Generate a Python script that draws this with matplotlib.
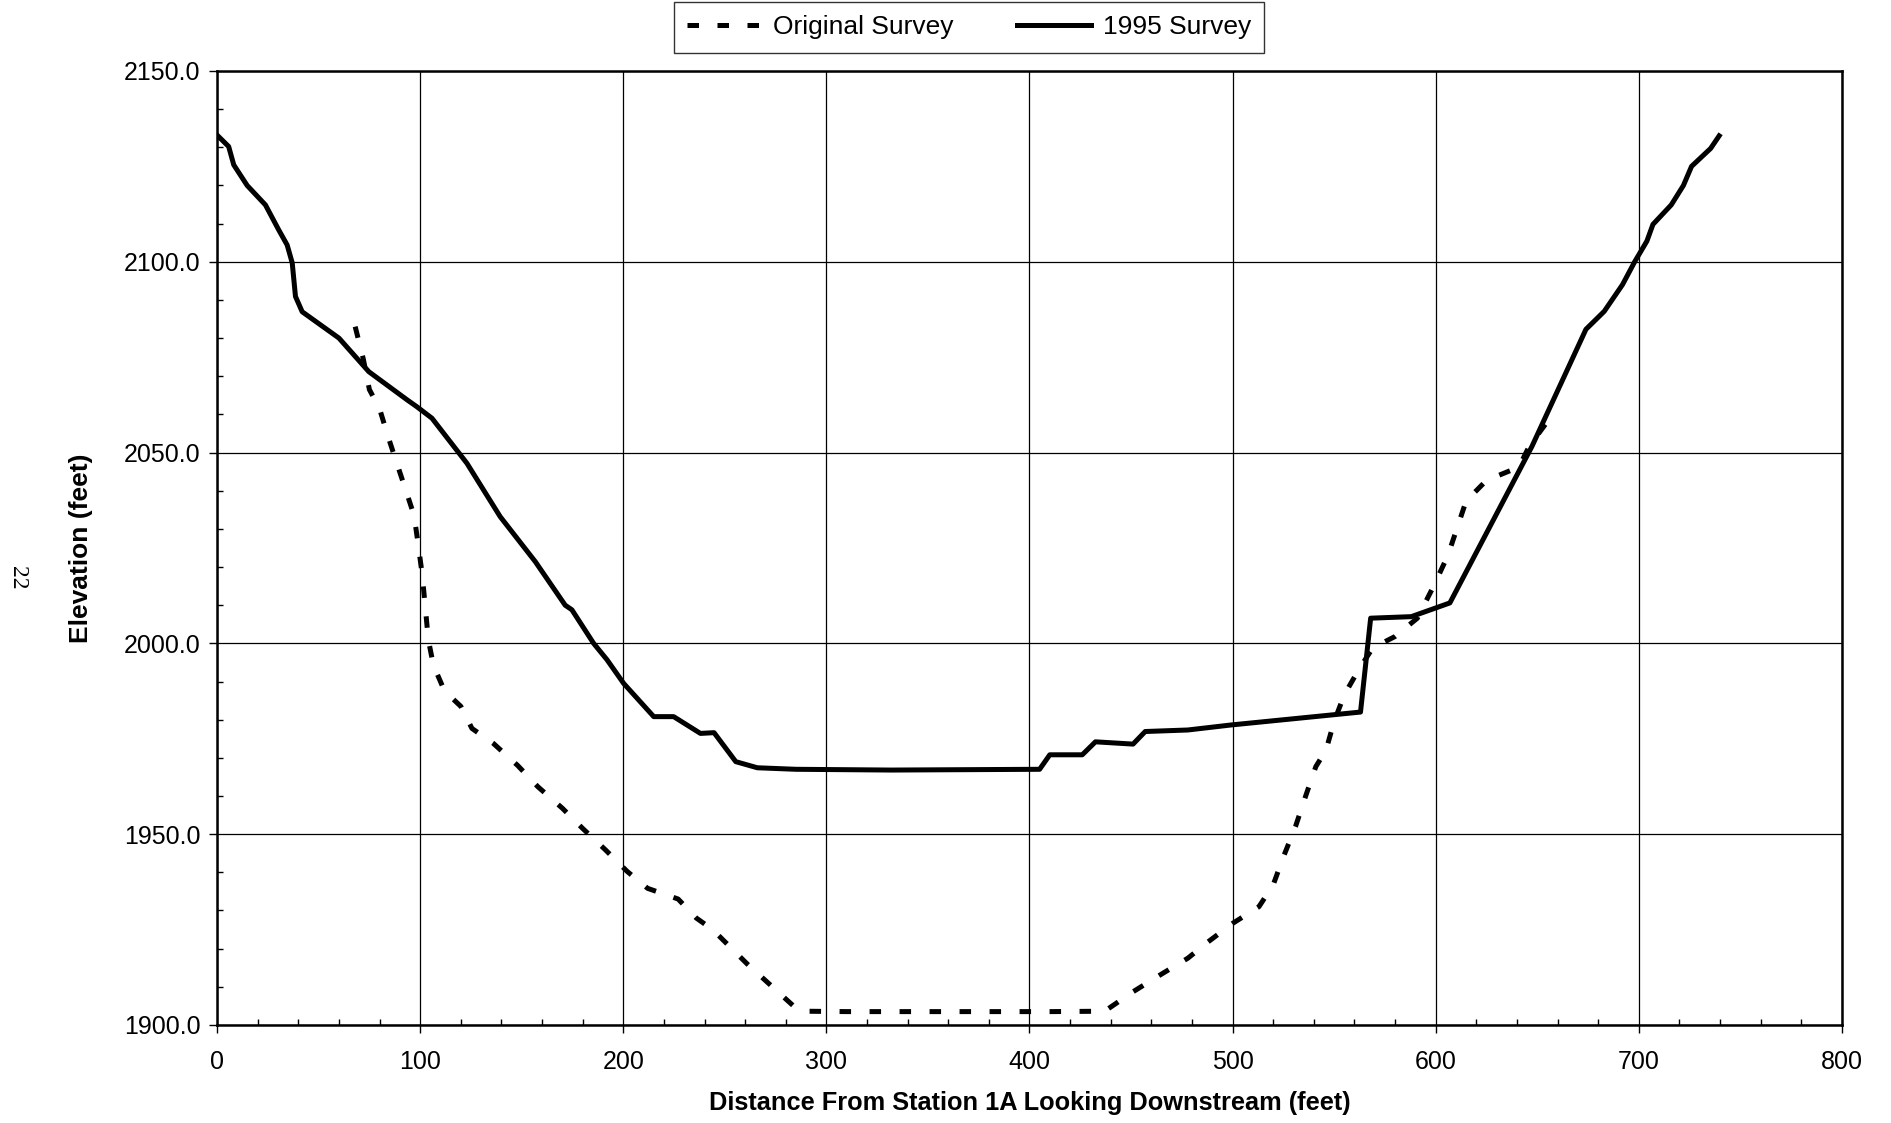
import numpy as np
import matplotlib.pyplot as plt
from matplotlib.ticker import MultipleLocator, FormatStrFormatter

plt.rcParams['font.family'] = ['Liberation Sans', 'DejaVu Sans']

# Original survey (dashed)
orig_x = [68, 72, 75, 80, 84, 88, 93, 97, 99, 101, 102.5, 104, 106.5, 112, 120, 125.5,
          136, 148, 158, 170, 180, 191, 202, 212, 227, 236, 244, 261, 285, 289,
          310, 360, 410, 437, 451, 464, 478, 488, 500, 513, 520, 525, 531, 536,
          541, 546, 550, 555, 562, 569, 580, 591, 599, 606, 615, 625, 641, 646, 659]
orig_y = [2083, 2074.5, 2066.5, 2061.5, 2054.5, 2048, 2040, 2033.5, 2026, 2018, 2009.6, 2001, 1994.3,
          1987.5, 1983.5, 1977.7, 1973.8, 1968, 1962.4, 1956.8, 1951.5, 1946, 1940.2, 1935.8, 1933,
          1928, 1925, 1916, 1904.4, 1903.6, 1903.5, 1903.5, 1903.5, 1903.6, 1908.7, 1913, 1917.5, 1921.8,
          1926.6, 1931, 1936.7, 1944, 1952, 1960, 1967.7, 1972, 1979.5, 1986.5, 1993, 1998.8,
          2001.8, 2006.6, 2015, 2023, 2037.3, 2042.7, 2046.2, 2051.6, 2061]

# 1995 survey (solid)
s95_x = [0, 5.7, 8.2, 14.8, 23.8, 30.4, 34.5, 37, 38.6, 41.9, 60, 74.7, 93.6, 98.4, 105.8,
         123, 139.4, 156.7, 171.4, 174.7, 185.4, 192, 200.2, 215, 224.8, 238, 244.7, 255.4, 266,
         285, 332, 405, 410, 426, 432.5, 451, 457, 478, 499, 563, 568, 588, 607,
         647.4, 674, 683, 692, 698, 704, 707, 716, 722, 726, 735.4, 739.6]
s95_y = [2133.2, 2130.2, 2125.4, 2120, 2114.9, 2108.3, 2104.4, 2099.7, 2090.9, 2086.9, 2080, 2071.2,
         2063.8, 2062, 2059, 2047.2, 2033.2, 2021.4, 2010, 2008.8, 2000, 1995.7, 1989.5, 1980.8,
         1980.8, 1976.4, 1976.6, 1969, 1967.4, 1967, 1966.8, 1967, 1970.8, 1970.8, 1974.2, 1973.6,
         1976.9, 1977.3, 1978.6, 1982, 2006.6, 2007, 2010.6, 2051.6, 2082.3, 2087, 2094, 2100,
         2105.4, 2109.8, 2114.9, 2120, 2125, 2129.7, 2133]

fig = plt.figure(figsize=(18.91, 11.23), dpi=100)
ax = fig.add_axes([0.1148, 0.0873, 0.8592, 0.8495])

ax.plot(orig_x, orig_y, color='black', lw=3.6, dashes=(2.3, 3.7), label='Original Survey')
ax.plot(s95_x, s95_y, color='black', lw=3.6, solid_joinstyle='round', label='1995 Survey')

ax.set_xlim(0, 800)
ax.set_ylim(1900, 2150)
ax.xaxis.set_major_locator(MultipleLocator(100))
ax.xaxis.set_minor_locator(MultipleLocator(20))
ax.yaxis.set_major_locator(MultipleLocator(50))
ax.yaxis.set_minor_locator(MultipleLocator(10))
ax.yaxis.set_major_formatter(FormatStrFormatter('%.1f'))

ax.tick_params(which='major', direction='out', length=6, width=1, labelsize=18, pad=12)
ax.tick_params(which='minor', direction='in', length=4, width=1)
ax.tick_params(axis='y', which='major', pad=6)
ax.grid(True, which='major', color='black', lw=0.9)

for side in ['left', 'bottom', 'right', 'top']:
    ax.spines[side].set_linewidth(1.8)

ax.set_xlabel('Distance From Station 1A Looking Downstream (feet)', fontsize=18.3,
              fontweight='bold', labelpad=12)
ax.set_ylabel('Elevation (feet)', fontsize=19, fontweight='bold', labelpad=22)

leg = fig.legend(loc='upper center', bbox_to_anchor=(969 / 1891, 0.998), ncol=2,
                 fontsize=19, frameon=True, fancybox=False, handlelength=2.8,
                 columnspacing=2.4, handletextpad=0.45, borderpad=0.5, borderaxespad=0)
leg.get_frame().set_edgecolor('black')
leg.get_frame().set_linewidth(1.0)

fig.text(17 / 1891, 1 - 578 / 1123, '22', rotation=-90, fontsize=17,
         family='Liberation Serif', ha='center', va='center')

fig.savefig('out.png', dpi=100)
